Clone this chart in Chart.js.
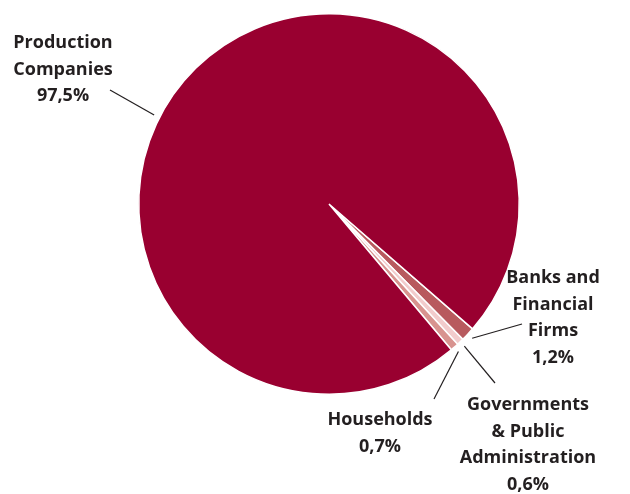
<!DOCTYPE html>
<html>
<head>
<meta charset="utf-8">
<script src="https://cdn.jsdelivr.net/npm/chart.js@4/dist/chart.umd.min.js"></script>
<style>
  html, body { margin: 0; padding: 0; background: #fff; }
  #wrap { width: 630px; height: 494px; position: relative; }
</style>
</head>
<body>
<div id="wrap"><canvas id="pie"></canvas></div>
<script>
// slices, clockwise from the lower right
const sectors = ['Banks and Financial Firms', 'Governments & Public Administration', 'Households', 'Production Companies'];
const shares  = [1.2, 0.6, 0.7, 97.5];
const colors  = ['#b85a5e', '#f2cccc', '#d8938f', '#990030'];

// label blocks: text lines, block anchor (centre x, first baseline y), leader end
const labelLines = [
  ['Banks and', 'Financial', 'Firms', '1,2%'],
  ['Governments', '& Public', 'Administration', '0,6%'],
  ['Households', '0,7%'],
  ['Production', 'Companies', '97,5%']
];
const labelPos = [
  { x: 553, y: 283, lx: 522, ly: 324 },
  { x: 528, y: 410, lx: 495, ly: 383 },
  { x: 380, y: 425, lx: 434, ly: 399 },
  { x: 63,  y: 48,  lx: 110, ly: 90, angle: 207 }
];

const leaderLabels = {
  id: 'leaderLabels',
  afterDraw(chart) {
    const ctx = chart.ctx;
    const arcs = chart.getDatasetMeta(0).data;
    ctx.save();
    ctx.strokeStyle = '#231f20';
    ctx.lineWidth = 1.2;
    ctx.fillStyle = '#231f20';
    ctx.font = '700 18px "Open Sans"';
    ctx.textAlign = 'center';
    arcs.forEach((arc, i) => {
      const p = labelPos[i];
      const a = p.angle !== undefined ? p.angle * Math.PI / 180 : (arc.startAngle + arc.endAngle) / 2;
      const r = arc.outerRadius + 6;
      ctx.beginPath();
      ctx.moveTo(arc.x + Math.cos(a) * r, arc.y + Math.sin(a) * r);
      ctx.lineTo(p.lx, p.ly);
      ctx.stroke();
      labelLines[i].forEach((t, k) => ctx.fillText(t, p.x, p.y + k * 26.5));
    });
    ctx.restore();
  }
};

new Chart(document.getElementById('pie'), {
  type: 'pie',
  data: {
    labels: sectors,
    datasets: [{
      data: shares,
      backgroundColor: colors,
      borderColor: '#fff',
      borderWidth: 1.5
    }]
  },
  options: {
    responsive: true,
    maintainAspectRatio: false,
    animation: false,
    rotation: 131,
    layout: { padding: { left: 138, right: 110, top: 13, bottom: 99 } },
    plugins: {
      legend: { display: false },
      tooltip: { enabled: false }
    }
  },
  plugins: [leaderLabels]
});
</script>
</body>
</html>
